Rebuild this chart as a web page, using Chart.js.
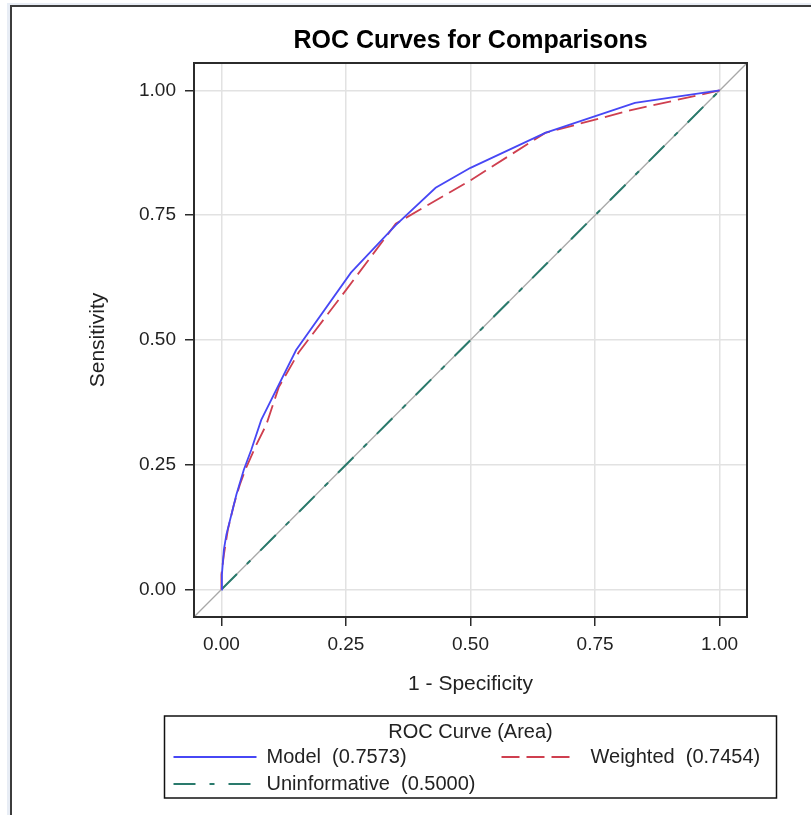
<!DOCTYPE html>
<html>
<head>
<meta charset="utf-8">
<title>ROC Curves for Comparisons</title>
<script src="https://cdn.jsdelivr.net/npm/chart.js@4.4.1/dist/chart.umd.min.js"></script>
<style>
  html, body { margin: 0; padding: 0; background: #fff; overflow: hidden; }
  .frame {
    position: absolute; left: 7px; top: 3px; right: -20px; bottom: -20px;
    border-left: 3px solid #e8edf5; border-top: 2px solid #e8edf5;
  }
  .frame-inner {
    position: absolute; left: 0; top: 0; right: 0; bottom: 0;
    border-left: 2px solid #3c3c3c; border-top: 2px solid #3c3c3c;
  }
  #chartWrap { position: absolute; left: 0; top: 0; width: 811px; height: 815px; }
</style>
</head>
<body>
<div class="frame"><div class="frame-inner"></div></div>
<div id="chartWrap"><canvas id="rocChart" width="811" height="815"></canvas></div>
<script>
// 1 - specificity (x) and sensitivity (y) for each curve
const modelFpr = [0, 0.001, 0.005, 0.01, 0.02, 0.03, 0.045, 0.06, 0.08, 0.15, 0.26, 0.35, 0.43, 0.5, 0.65, 0.83, 1];
const modelTpr = [0, 0.03, 0.08, 0.11, 0.15, 0.19, 0.24, 0.28, 0.34, 0.48, 0.635, 0.73, 0.805, 0.845, 0.915, 0.975, 1];
const weightedFpr = [0, 0, 0.005, 0.013, 0.025, 0.037, 0.05, 0.07, 0.09, 0.115, 0.155, 0.25, 0.35, 0.5, 0.65, 0.82, 1];
const weightedTpr = [0, 0.03, 0.07, 0.12, 0.17, 0.21, 0.245, 0.29, 0.33, 0.405, 0.475, 0.6, 0.733, 0.82, 0.915, 0.96, 1];
const chanceFpr = [0, 1];
const chanceTpr = [0, 1];

const seriesNames = ['Model', 'Weighted', 'Uninformative'];
const seriesAreas = [0.7573, 0.7454, 0.5000];

const tickValues = [0, 0.25, 0.5, 0.75, 1];
const axisMin = -0.055;
const axisMax = 1.055;

const FONT = '"Liberation Sans", Arial, sans-serif';
Chart.defaults.font.family = FONT;

const toPoints = (xs, ys) => xs.map((x, i) => ({ x: x, y: ys[i] }));
const areaLabel = i => seriesNames[i] + '  (' + seriesAreas[i].toFixed(4) + ')';

// full box around the plot area
const plotFrame = {
  id: 'plotFrame',
  afterDatasetsDraw(chart) {
    const { ctx, chartArea: a } = chart;
    ctx.save();
    ctx.strokeStyle = '#2b2b2b';
    ctx.lineWidth = 2;
    ctx.strokeRect(a.left, a.top, a.right - a.left, a.bottom - a.top);
    ctx.restore();
  }
};

// boxed legend under the x axis: title row, then two columns
const rocLegend = {
  id: 'rocLegend',
  afterDraw(chart) {
    const { ctx, chartArea } = chart;
    const cx = (chartArea.left + chartArea.right) / 2;
    const left = cx - 306;
    const top = chartArea.bottom + 99;
    ctx.save();
    ctx.strokeStyle = '#111';
    ctx.lineWidth = 1.5;
    ctx.strokeRect(left, top, 612, 82);

    ctx.fillStyle = '#222';
    ctx.font = '20px ' + FONT;
    ctx.textBaseline = 'middle';
    ctx.textAlign = 'center';
    ctx.fillText('ROC Curve (Area)', cx, top + 16);

    const cols = [{ x0: left + 9, x1: left + 92, tx: left + 102 },
                  { x0: left + 337, x1: left + 410, tx: left + 426 }];
    const rows = [top + 41, top + 68];
    const slots = [[0, 0], [1, 0], [0, 1]];
    chart.data.datasets.forEach(ds => {
      if (ds.legendIndex === undefined) return;
      const [c, r] = slots[ds.legendIndex];
      const col = cols[c];
      const y = rows[r];
      ctx.strokeStyle = ds.borderColor;
      ctx.lineWidth = ds.borderWidth;
      ctx.setLineDash(ds.borderDash || []);
      ctx.beginPath();
      ctx.moveTo(col.x0, y);
      ctx.lineTo(col.x1, y);
      ctx.stroke();
      ctx.setLineDash([]);
      ctx.textAlign = 'left';
      ctx.fillText(ds.label, col.tx, y);
    });
    ctx.restore();
  }
};

const axisCommon = {
  type: 'linear',
  min: axisMin,
  max: axisMax,
  afterBuildTicks: scale => { scale.ticks = tickValues.map(v => ({ value: v })); },
  ticks: {
    callback: v => Number(v).toFixed(2),
    font: { size: 19 },
    color: '#222',
    padding: 9,
    maxRotation: 0
  },
  grid: { color: '#e2e2e2', lineWidth: 1.5, tickColor: '#2b2b2b', tickLength: 9, tickWidth: 1.5 },
  border: { display: false }
};

const ctx = document.getElementById('rocChart').getContext('2d');
new Chart(ctx, {
  type: 'scatter',
  data: {
    datasets: [
      {
        label: areaLabel(0), legendIndex: 0,
        data: toPoints(modelFpr, modelTpr),
        showLine: true, borderColor: '#4747f5', borderWidth: 1.8,
        pointRadius: 0, tension: 0
      },
      {
        label: areaLabel(1), legendIndex: 1,
        data: toPoints(weightedFpr, weightedTpr),
        showLine: true, borderColor: '#cf3f4f', borderWidth: 1.8, borderDash: [18, 7],
        pointRadius: 0, tension: 0
      },
      {
        label: areaLabel(2), legendIndex: 2,
        data: toPoints(chanceFpr, chanceTpr),
        showLine: true, borderColor: '#2a7a6c', borderWidth: 2, borderDash: [22, 14, 5, 14],
        pointRadius: 0, tension: 0
      },
      {
        // corner-to-corner reference diagonal
        label: '',
        data: [{ x: axisMin, y: axisMin }, { x: axisMax, y: axisMax }],
        showLine: true, borderColor: '#a8a8a8', borderWidth: 1.3,
        pointRadius: 0, tension: 0
      }
    ]
  },
  options: {
    responsive: false,
    animation: false,
    layout: { padding: { left: 0, right: 64, top: 0, bottom: 108 } },
    plugins: {
      legend: { display: false },
      tooltip: { enabled: false },
      title: {
        display: true,
        text: 'ROC Curves for Comparisons',
        fullSize: false,
        color: '#000',
        font: { size: 25, weight: 'bold' },
        padding: { top: 26, bottom: 7 }
      }
    },
    scales: {
      x: Object.assign({}, axisCommon, {
        position: 'bottom',
        afterFit: scale => { scale.height = 90; },
        ticks: Object.assign({}, axisCommon.ticks, { padding: 7 }),
        title: { display: true, text: '1 - Specificity', color: '#222', font: { size: 21 }, padding: { bottom: 10.4 } }
      }),
      y: Object.assign({}, axisCommon, {
        position: 'left',
        afterFit: scale => { scale.width = 194; },
        title: { display: true, text: 'Sensitivity', color: '#222', font: { size: 21 }, padding: { top: 86 } }
      })
    }
  },
  plugins: [plotFrame, rocLegend]
});
</script>
</body>
</html>
